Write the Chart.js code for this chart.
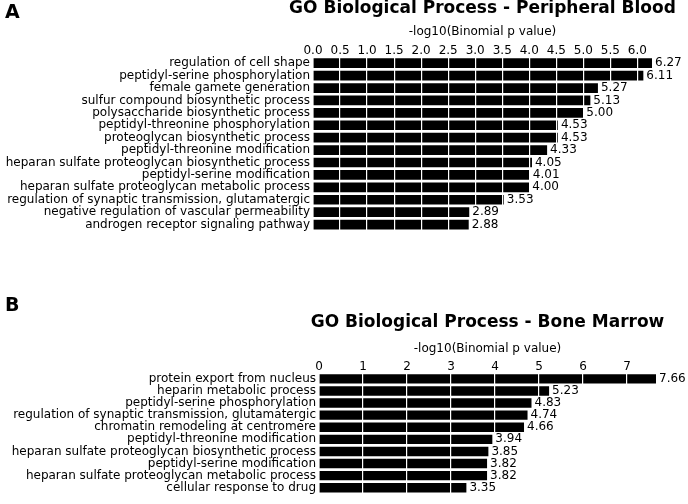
<!DOCTYPE html>
<html>
<head>
<meta charset="utf-8">
<script src="https://cdn.jsdelivr.net/npm/chart.js@4/dist/chart.umd.min.js"></script>
<style>
  html, body { margin: 0; padding: 0; background: #fff; }
  #wrap { position: relative; width: 688px; height: 504px; }
  .panel { position: absolute; left: 0; width: 688px; }
</style>
</head>
<body>
<div id="wrap">
  <div class="panel" style="top:0;height:241px"><canvas id="chartA"></canvas></div>
  <div class="panel" style="top:280px;height:224px"><canvas id="chartB"></canvas></div>
</div>
<script>
// panel A - peripheral blood
const bloodTerms = [
    'regulation of cell shape',
    'peptidyl-serine phosphorylation',
    'female gamete generation',
    'sulfur compound biosynthetic process',
    'polysaccharide biosynthetic process',
    'peptidyl-threonine phosphorylation',
    'proteoglycan biosynthetic process',
    'peptidyl-threonine modification',
    'heparan sulfate proteoglycan biosynthetic process',
    'peptidyl-serine modification',
    'heparan sulfate proteoglycan metabolic process',
    'regulation of synaptic transmission, glutamatergic',
    'negative regulation of vascular permeability',
    'androgen receptor signaling pathway'
];
const bloodValues = [6.27, 6.11, 5.27, 5.13, 5.00, 4.53, 4.53, 4.33, 4.05, 4.01, 4.00, 3.53, 2.89, 2.88];
const bloodStep = 0.5;

// panel B - bone marrow
const marrowTerms = [
    'protein export from nucleus',
    'heparin metabolic process',
    'peptidyl-serine phosphorylation',
    'regulation of synaptic transmission, glutamatergic',
    'chromatin remodeling at centromere',
    'peptidyl-threonine modification',
    'heparan sulfate proteoglycan biosynthetic process',
    'peptidyl-serine modification',
    'heparan sulfate proteoglycan metabolic process',
    'cellular response to drug'
];
const marrowValues = [7.66, 5.23, 4.83, 4.74, 4.66, 3.94, 3.85, 3.82, 3.82, 3.35];
const marrowStep = 1;

const axisTitle = '-log10(Binomial p value)';
const FONT = '"DejaVu Sans", sans-serif';

Chart.defaults.font.family = FONT;
Chart.defaults.color = '#000';

// value text at the end of every bar + panel letter and bold title
const panelText = {
    id: 'panelText',
    afterDraw: function(chart, args, opts) {
        const ctx = chart.ctx;
        const meta = chart.getDatasetMeta(0);
        const vals = chart.data.datasets[0].data;
        const area = chart.chartArea;
        ctx.save();
        ctx.fillStyle = '#000';
        ctx.textBaseline = 'middle';
        ctx.textAlign = 'left';
        ctx.font = '12px ' + FONT;
        meta.data.forEach(function(bar, i) {
            ctx.fillText(vals[i].toFixed(2), bar.x + 3, bar.y);
        });
        ctx.font = 'bold 19px ' + FONT;
        ctx.fillText(opts.letter, 5, opts.letterY);
        ctx.font = 'bold 17px ' + FONT;
        ctx.textAlign = 'center';
        ctx.fillText(opts.title, (area.left + area.right) / 2, opts.titleY);
        ctx.restore();
    }
};

var makePanel = function(id, terms, values, step, p) {
    return new Chart(document.getElementById(id), {
        type: 'bar',
        data: {
            labels: terms,
            datasets: [{
                data: values,
                backgroundColor: '#000',
                borderWidth: 0,
                barPercentage: 0.78,
                categoryPercentage: 1
            }]
        },
        options: {
            indexAxis: 'y',
            responsive: true,
            maintainAspectRatio: false,
            animation: false,
            events: [],
            layout: {
                padding: { left: 0, top: p.padTop, right: 688 - p.right, bottom: p.padBottom }
            },
            plugins: {
                legend: { display: false },
                tooltip: { enabled: false },
                panelText: { letter: p.letter, letterY: p.letterY, title: p.title, titleY: p.titleY }
            },
            scales: {
                x: {
                    position: 'top',
                    min: 0,
                    max: values[0],
                    border: { display: false },
                    grid: {
                        z: 1,   // white grid goes over the bars
                        drawTicks: false,
                        lineWidth: 1.2,
                        color: function(c) {
                            return c.tick && c.tick.value === 0 ? 'rgba(0,0,0,0)' : '#ffffff';
                        }
                    },
                    ticks: {
                        stepSize: step,
                        includeBounds: false,
                        autoSkip: false,
                        maxRotation: 0,
                        padding: 0,
                        font: { size: 12, lineHeight: 1 },
                        callback: function(v) {
                            return step < 1 ? v.toFixed(1) : String(v);
                        }
                    },
                    title: {
                        display: true,
                        text: axisTitle,
                        font: { size: 12 },
                        padding: { top: 0, bottom: p.titlePad }
                    }
                },
                y: {
                    border: { display: false },
                    grid: { display: false, drawTicks: false },
                    ticks: {
                        autoSkip: false,
                        padding: 3,
                        font: { size: 12 }
                    },
                    afterFit: function(s) {
                        s.width = p.left;
                    }
                }
            }
        },
        plugins: [panelText]
    });
};

makePanel('chartA', bloodTerms, bloodValues, bloodStep, {
    letter: 'A', letterY: 13,
    title: 'GO Biological Process - Peripheral Blood', titleY: 9,
    left: 313, right: 652, padTop: 24.6, padBottom: 1.5, titlePad: 6
});
makePanel('chartB', marrowTerms, marrowValues, marrowStep, {
    letter: 'B', letterY: 26,
    title: 'GO Biological Process - Bone Marrow', titleY: 43,
    left: 319, right: 656, padTop: 61.8, padBottom: 1.5, titlePad: 4.6
});
</script>
</body>
</html>
